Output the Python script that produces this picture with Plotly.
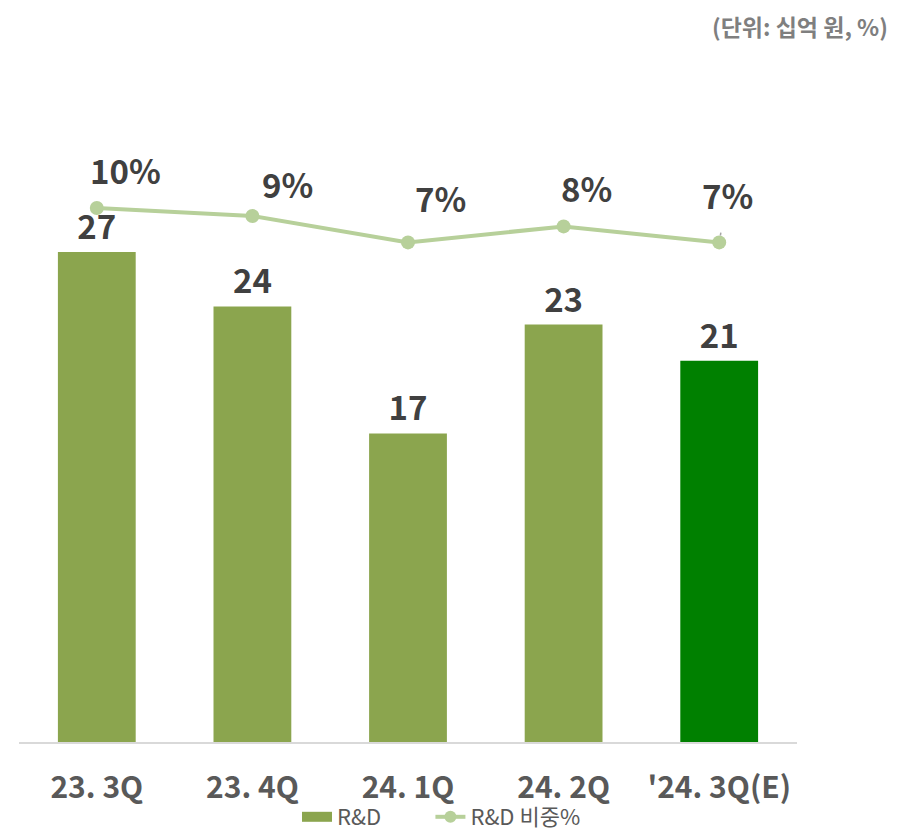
import plotly.graph_objects as go

categories = ["23. 3Q", "23. 4Q", "24. 1Q", "24. 2Q", "'24. 3Q(E)"]
rd_values = [27, 24, 17, 23, 21]
rd_ratio = [9.6, 9.1, 7.45, 8.45, 7.45]
bar_colors = ["#8BA54E", "#8BA54E", "#8BA54E", "#8BA54E", "#008000"]
series_names = ["R&D", "R&D 비중%"]
label_dx = [29, 35, 32, 23, 8]
label_dy = [38, 32, 44, 38, 47]
leader = [False, False, False, False, True]

FONT = "Noto Sans CJK KR, Open Sans, sans-serif"
LINE_COLOR = "#B7D09A"

# page has an 8px body margin; figure is drawn 8px right/down
W, H = 910, 830
ml, mr, mt, mb = 11, 121, 92, 96
pw = W - ml - mr
ph = H - mt - mb

fig = go.Figure()
fig.add_trace(go.Bar(
    x=categories, y=rd_values, name=series_names[0], showlegend=False,
    marker=dict(color=bar_colors, line=dict(width=0)),
    width=0.5,
    text=[str(v) for v in rd_values], textposition="outside",
    textfont=dict(size=33, color="#404040", family=FONT, weight="bold"),
    cliponaxis=False,
))
fig.add_trace(go.Scatter(
    x=categories, y=rd_ratio, name=series_names[1], yaxis="y2",
    mode="lines+markers", showlegend=False,
    line=dict(color=LINE_COLOR, width=4),
    marker=dict(color=LINE_COLOR, size=14),
    cliponaxis=False,
))
# legend entries (padding with non-breaking spaces to widen the first entry)
fig.add_trace(go.Scatter(
    x=[None], y=[None], name=series_names[0] + "\u00a0" * 9, mode="lines",
    line=dict(color=bar_colors[0], width=14),
))
fig.add_trace(go.Scatter(
    x=[None], y=[None], name=series_names[1], mode="lines+markers",
    line=dict(color=LINE_COLOR, width=4),
    marker=dict(color=LINE_COLOR, size=12),
))

annotations = []
for c, v, dx, dy, ld in zip(categories, rd_ratio, label_dx, label_dy, leader):
    font = dict(size=33, color="#404040", family=FONT, weight="bold")
    if ld:
        annotations.append(dict(
            x=c, y=v, xref="x", yref="y2", text=f"{round(v)}%",
            showarrow=True, arrowhead=0, arrowwidth=1.5, arrowcolor="#A6A6A6",
            ax=dx, ay=-dy, standoff=7, startstandoff=12, font=font,
        ))
    else:
        annotations.append(dict(
            x=c, y=v, xref="x", yref="y2", text=f"{round(v)}%",
            showarrow=False, xshift=dx, yshift=dy, font=font,
        ))
annotations.append(dict(
    x=(881 - ml) / pw, y=(H - mb) / ph, xref="paper", yref="paper",
    text="(단위: 십억 원, %)", showarrow=False, borderpad=0,
    xanchor="right", yanchor="top",
    font=dict(size=23, color="#7F7F7F", family=FONT, weight="bold"),
))

fig.update_layout(
    width=W, height=H,
    margin=dict(l=ml, r=mr, t=mt, b=mb, autoexpand=False),
    paper_bgcolor="white", plot_bgcolor="white",
    showlegend=True,
    legend=dict(
        orientation="h", x=(289 - ml) / pw, xanchor="left",
        y=(H - mb - 830) / ph, yanchor="bottom",
        font=dict(size=22, color="#595959", family=FONT),
        tracegroupgap=0, bgcolor="rgba(0,0,0,0)",
    ),
    xaxis=dict(
        showgrid=False, showline=True, linecolor="#D9D9D9", linewidth=2,
        tickfont=dict(size=30, color="#595959", family=FONT, weight="bold"),
        ticks="", ticklabelstandoff=18, automargin=False,
    ),
    yaxis=dict(range=[0, 35.37], visible=False, showgrid=False, automargin=False),
    yaxis2=dict(range=[-23.775, 16.35], overlaying="y", side="right",
                visible=False, showgrid=False, automargin=False),
    annotations=annotations,
)

fig.write_html("out.html")
